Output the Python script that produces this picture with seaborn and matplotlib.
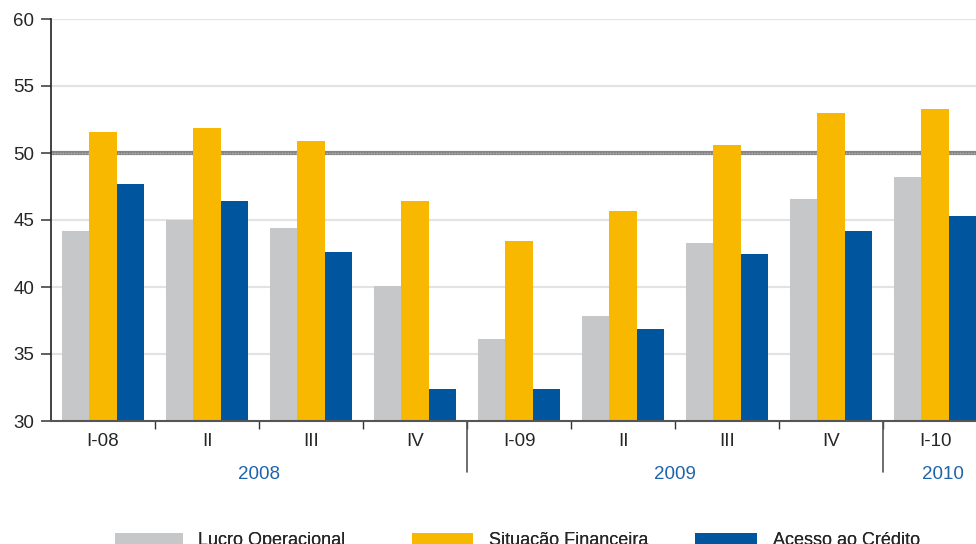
import numpy as np
import pandas as pd
import seaborn as sns
import matplotlib.pyplot as plt
from matplotlib.patches import Patch

quarters = ['I-08', 'II', 'III', 'IV', 'I-09', 'II', 'III', 'IV', 'I-10']
lucro = [44.2, 45.0, 44.4, 40.1, 36.1, 37.8, 43.3, 46.6, 48.2]
situacao = [51.6, 51.9, 50.9, 46.4, 43.4, 45.7, 50.6, 53.0, 53.3]
acesso = [47.7, 46.4, 42.6, 32.4, 32.4, 36.9, 42.5, 44.2, 45.3]
series = ['Lucro Operacional', 'Situação Financeira', 'Acesso ao Crédito']
years = ['2008', '2009', '2010']
colors = ['#c6c7c9', '#f9b800', '#00569e']

rows = []
for i in range(len(quarters)):
    for s, vals in zip(series, [lucro, situacao, acesso]):
        rows.append({'pos': i, 'serie': s, 'valor': vals[i]})
df = pd.DataFrame(rows)

sns.set_style('white')
plt.rcParams['font.family'] = ['Liberation Sans', 'DejaVu Sans']

fig = plt.figure(figsize=(9.76, 5.44), dpi=100)
ax = fig.add_axes([51 / 976, 123 / 544, 1 - 51 / 976, 402 / 544])

sns.barplot(data=df, x='pos', y='valor', hue='serie', hue_order=series,
            palette=colors, width=0.79, saturation=1, ax=ax, zorder=3,
            linewidth=0, edgecolor='none')
if ax.get_legend():
    ax.get_legend().remove()

ax.set_ylim(30, 60)
ax.set_xlim(-0.5, 8.394)
ax.set_yticks(range(30, 61, 5))
for y in [35, 40, 45, 55, 60]:
    ax.axhline(y, color='#e3e3e3', lw=1.5, zorder=1)
ax.axhline(50, color='#858585', lw=3, zorder=2)
ax.axhline(50, color='#b5b5b5', lw=1, ls=(0, (1, 1)), zorder=2)

ax.set_xticks(range(len(quarters)))
ax.set_xticklabels(quarters, fontsize=13.5)
ax.tick_params(axis='x', which='major', bottom=True, length=0, pad=9)
ax.set_xticks(np.arange(0.5, 8, 1), minor=True)
ax.tick_params(axis='x', which='minor', bottom=True, length=6, width=1,
               color='#333333', direction='out')
ax.tick_params(axis='y', left=True, length=7, width=1.2, color='#444444',
               direction='out', labelsize=13.5, pad=5)
ax.set_xlabel('')
ax.set_ylabel('')

for side in ['top', 'right']:
    ax.spines[side].set_visible(False)
ax.spines['left'].set_color('#222222')
ax.spines['left'].set_linewidth(1.2)
ax.spines['bottom'].set_color('#555555')
ax.spines['bottom'].set_linewidth(1.5)
ax.spines['bottom'].set_zorder(5)
ax.spines['left'].set_zorder(5)

xt = ax.get_xaxis_transform()
for x in [3.5, 7.5]:
    ax.plot([x, x], [0, -0.127], transform=xt, color='#555555', lw=1.2, clip_on=False)
for x, yr in zip([1.5, 5.5, 8.08], years):
    ax.text(x, -0.134, yr, transform=xt, ha='center', va='center',
            color='#1e64ab', fontsize=13.5)

# legend entries placed one by one, as in the original layout
leg_x = [115, 412, 695]
leg_len = [3.75, 3.4, 3.45]
for c, s, x, hl in zip(colors, series, leg_x, leg_len):
    lg = fig.legend([Patch(facecolor=c, edgecolor='none')], [s], loc='center left',
                    bbox_to_anchor=(x / 976, 0.006), frameon=False, fontsize=13,
                    handlelength=hl, handleheight=0.55, handletextpad=0.85,
                    borderpad=0, borderaxespad=0)
    fig.add_artist(lg)

fig.savefig('out.png', dpi=100)
